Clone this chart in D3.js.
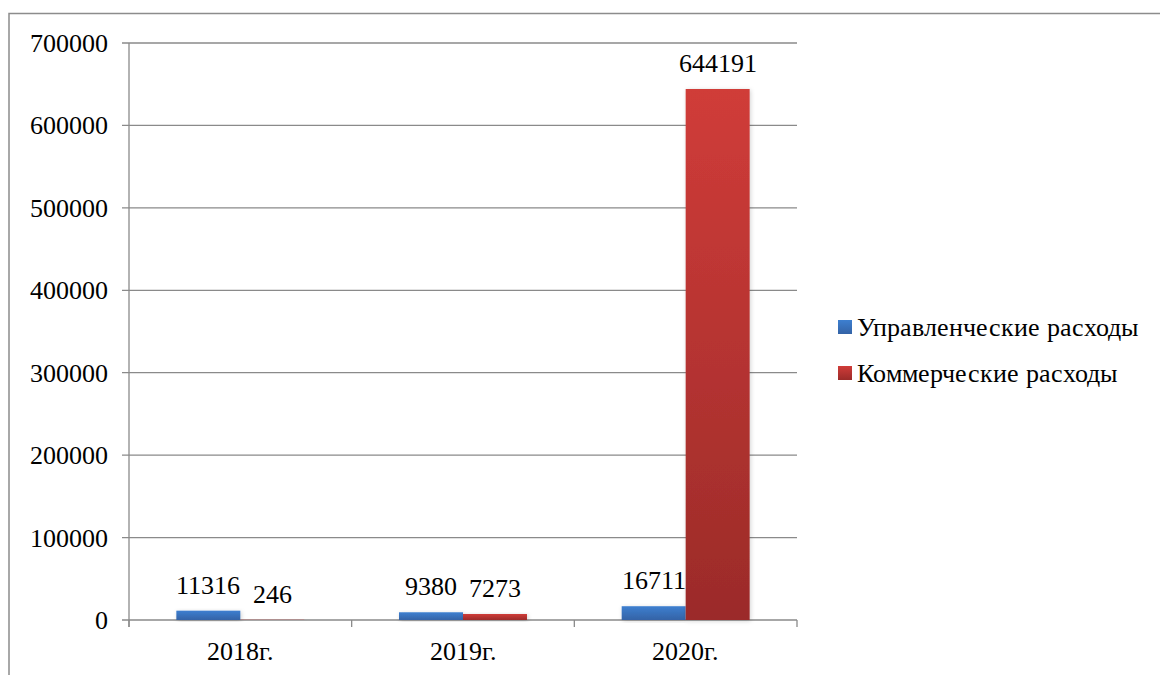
<!DOCTYPE html>
<html>
<head>
<meta charset="utf-8">
<script src="https://cdn.jsdelivr.net/npm/d3@7"></script>
<style>
  @font-face {
    font-family: "ChartSerif";
    src: local("Liberation Serif"), local("LiberationSerif"), local("LiberationSerif-Regular"),
         local("Times New Roman"), local("Tinos");
  }
  html, body { margin: 0; padding: 0; background: #fff; }
  svg text { font-family: "ChartSerif", "Liberation Serif", "Times New Roman", serif; }
</style>
</head>
<body>
<svg id="chart" width="1160" height="675"></svg>
<script>
// --- données ---
const years = ["2018г.", "2019г.", "2020г."];
const seriesNames = ["Управленческие расходы", "Коммерческие расходы"];
const upravlencheskie = [11316, 9380, 16711];
const kommercheskie = [246, 7273, 644191];
const yTicks = [0, 100000, 200000, 300000, 400000, 500000, 600000, 700000];

const svg = d3.select("#chart");
const margin = { left: 129, right: 797, top: 43, bottom: 620 };
const fontSize = 26;

// dégradés et ombre légère
const defs = svg.append("defs");
const grads = [
  { id: "gBlue", top: "#3d7fd0", bottom: "#3463a6" },
  { id: "gRed", top: "#d03c39", bottom: "#9b2b29" }
];
grads.forEach(g => {
  const lg = defs.append("linearGradient").attr("id", g.id)
    .attr("x1", 0).attr("y1", 0).attr("x2", 0).attr("y2", 1);
  lg.append("stop").attr("offset", "0%").attr("stop-color", g.top);
  lg.append("stop").attr("offset", "100%").attr("stop-color", g.bottom);
});
const f = defs.append("filter").attr("id", "shadow")
  .attr("x", "-20%").attr("y", "-20%").attr("width", "140%").attr("height", "140%");
f.append("feDropShadow").attr("dx", 1).attr("dy", 1).attr("stdDeviation", 2)
  .attr("flood-color", "#000").attr("flood-opacity", 0.18);

// cadre extérieur
svg.append("rect")
  .attr("x", 9).attr("y", 13.5).attr("width", 1200).attr("height", 700)
  .attr("fill", "none").attr("stroke", "#8c8c8c").attr("stroke-width", 1.5);

// échelles
const x0 = d3.scaleBand().domain(years).range([margin.left, margin.right]).padding(0);
const x1 = d3.scaleBand().domain(seriesNames)
  .range([0, x0.bandwidth()]).paddingOuter(0.74).paddingInner(0);
const y = d3.scaleLinear().domain([0, 700000]).range([margin.bottom, margin.top]);

// grille
svg.append("g").selectAll("line").data(yTicks).join("line")
  .attr("x1", margin.left - 7).attr("x2", margin.right)
  .attr("y1", d => y(d)).attr("y2", d => y(d))
  .attr("stroke", "#8a8a8a").attr("stroke-width", 1.3);

// axe vertical
svg.append("line")
  .attr("x1", margin.left).attr("x2", margin.left)
  .attr("y1", margin.top).attr("y2", margin.bottom + 7)
  .attr("stroke", "#8a8a8a").attr("stroke-width", 1.3);

// graduations axe X
const xBounds = years.map(d => x0(d)).concat([margin.right]);
svg.append("g").selectAll("line").data(xBounds).join("line")
  .attr("x1", d => d).attr("x2", d => d)
  .attr("y1", margin.bottom).attr("y2", margin.bottom + 7)
  .attr("stroke", "#8a8a8a").attr("stroke-width", 1.3);

// étiquettes Y
svg.selectAll("text.ytick").data(yTicks).join("text")
  .attr("class", "ytick")
  .attr("x", 108).attr("y", d => y(d) + 9)
  .attr("text-anchor", "end").attr("font-size", fontSize)
  .text(d => String(d));

// étiquettes X
svg.selectAll("text.xtick").data(years).join("text")
  .attr("class", "xtick")
  .attr("x", d => x0(d) + x0.bandwidth() / 2).attr("y", 660)
  .attr("text-anchor", "middle").attr("font-size", fontSize)
  .text(d => d);

// barres
const series = [
  { name: seriesNames[0], values: upravlencheskie, fill: "url(#gBlue)", legend: "gBlue" },
  { name: seriesNames[1], values: kommercheskie, fill: "url(#gRed)", legend: "gRed" }
];
series.forEach(s => {
  const rows = years.map((yr, i) => ({ yr, v: s.values[i] }));
  svg.append("g").selectAll("rect").data(rows).join("rect")
    .attr("x", d => x0(d.yr) + x1(s.name))
    .attr("y", d => y(d.v))
    .attr("width", x1.bandwidth())
    .attr("height", d => y(0) - y(d.v))
    .attr("fill", s.fill)
    .attr("filter", "url(#shadow)");
});
series.forEach((s, k) => {
  const rows = years.map((yr, i) => ({ yr, v: s.values[i] }));
  svg.selectAll("text.val" + k).data(rows).join("text")
    .attr("class", "val" + k)
    .attr("x", d => x0(d.yr) + x1(s.name) + x1.bandwidth() / 2)
    .attr("y", d => y(d.v) - 17)
    .attr("text-anchor", "middle").attr("font-size", fontSize)
    .text(d => String(d.v));
});

// légende
series.forEach((s, i) => {
  const ly = 336 + i * 46;
  svg.append("rect")
    .attr("x", 838).attr("y", ly - 16).attr("width", 14).attr("height", 14)
    .attr("fill", "url(#" + s.legend + ")");
  svg.append("text")
    .attr("x", 857).attr("y", ly).attr("font-size", fontSize)
    .text(s.name);
});
</script>
</body>
</html>
